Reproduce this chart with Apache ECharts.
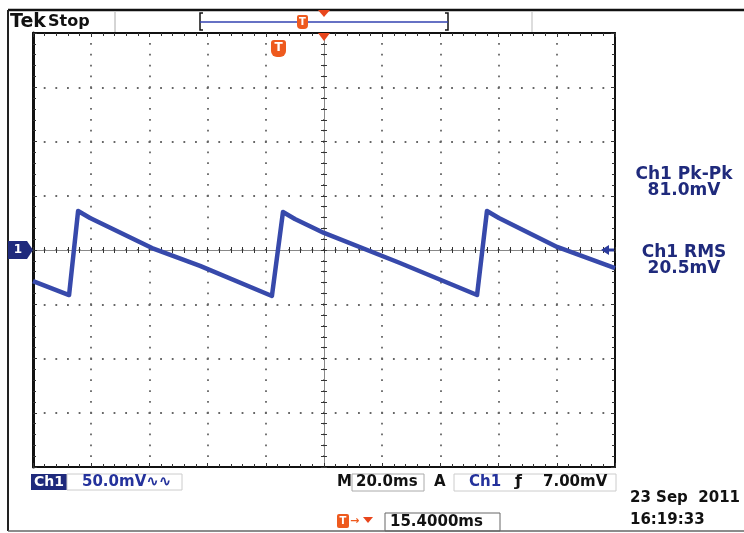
<!DOCTYPE html>
<html><head><meta charset="utf-8">
<script src="https://cdn.jsdelivr.net/npm/echarts@6/dist/echarts.min.js"></script>
<style>html,body{margin:0;padding:0;background:#fff}#c{width:744px;height:533px}</style>
</head><body><div id="c"></div>
<script>
// Time axis (ms, relative to screen centre) and Ch1 voltage (mV)
const timeMs = [-100, -87.6, -84.5, -80.4, -59.1, -42.6, -17.9, -14.1, -10.0, 0, 26.1, 52.6, 56.0, 60.1, 80.1, 100];
const voltMv = [-28.6, -41.5, 35.9, 29.5, 1.8, -14.7, -42.4, 35.0, 28.6, 15.7, -12.0, -41.5, 35.9, 29.5, 2.8, -16.6];
const timeRange = [-100, 100];   // 10 div x 20 ms
const voltRange = [-200, 200];   // 8 div x 50 mV
const timePerDiv = 20;
const voltPerDiv = 50;
const readoutTitles = ['Ch1 Pk-Pk', 'Ch1 RMS'];
const readoutValues = ['81.0mV', '20.5mV'];
const chScale = '50.0mV';
const timeBase = '20.0ms';
const trigLevel = '7.00mV';
const trigPos = '15.4000ms';
const dateText = '23 Sep  2011';
const timeText = '16:19:33';

const FONT = 'DejaVu Sans';
const NAVY = '#1f2a7c';
const TRACE = '#3749ab';
const ORANGE = '#ee5a1e';

function xAx(extra) {
  return Object.assign({
    type: 'value', min: timeRange[0], max: timeRange[1], interval: timePerDiv,
    axisLabel: {show: false}, splitLine: {show: false},
    axisTick: {show: true, inside: true, length: 4, lineStyle: {color: '#333', width: 1}},
    minorTick: {show: true, splitNumber: 5, length: 3, lineStyle: {color: '#333', width: 1}},
    axisLine: {show: true, onZero: false, lineStyle: {color: '#111', width: 2}}
  }, extra);
}
function yAx(extra) {
  return Object.assign({
    type: 'value', min: voltRange[0], max: voltRange[1], interval: voltPerDiv,
    axisLabel: {show: false}, splitLine: {show: false},
    axisTick: {show: true, inside: true, length: 4, lineStyle: {color: '#333', width: 1}},
    minorTick: {show: true, splitNumber: 5, length: 3, lineStyle: {color: '#333', width: 1}},
    axisLine: {show: true, onZero: false, lineStyle: {color: '#111', width: 2}}
  }, extra);
}

const chart = echarts.init(document.getElementById('c'), null, {renderer: 'canvas'});
const option = {
  animation: false,
  backgroundColor: '#fff',
  grid: {left: 33, top: 33, width: 582, height: 434, containLabel: false},
  xAxis: [
    xAx({position: 'bottom',
      splitLine: {show: true, lineStyle: {color: '#666', width: 1.8, type: [1.8, 9.05], dashOffset: 0.9}}}),
    xAx({position: 'top'}),
    xAx({position: 'bottom', axisLine: {show: true, onZero: true, onZeroAxisIndex: 0, lineStyle: {color: '#888', width: 1}},
      axisTick: {show: true, inside: true, length: 3, lineStyle: {color: '#333'}},
      minorTick: {show: true, splitNumber: 5, length: 3, lineStyle: {color: '#333'}}}),
    xAx({position: 'bottom', axisLine: {show: false, onZero: true, onZeroAxisIndex: 0},
      axisTick: {show: true, inside: false, length: 3, lineStyle: {color: '#333'}},
      minorTick: {show: true, splitNumber: 5, length: 3, lineStyle: {color: '#333'}}})
  ],
  yAxis: [
    yAx({position: 'left', axisLine: {show: true, onZero: false, lineStyle: {color: '#111', width: 3}},
      splitLine: {show: true, lineStyle: {color: '#666', width: 1.8, type: [1.8, 9.84], dashOffset: 0.9}}}),
    yAx({position: 'right'}),
    yAx({position: 'left', axisLine: {show: true, onZero: true, onZeroAxisIndex: 0, lineStyle: {color: '#888', width: 1}},
      axisTick: {show: true, inside: true, length: 3, lineStyle: {color: '#333'}},
      minorTick: {show: true, splitNumber: 5, length: 3, lineStyle: {color: '#333'}}}),
    yAx({position: 'left', axisLine: {show: false, onZero: true, onZeroAxisIndex: 0},
      axisTick: {show: true, inside: false, length: 3, lineStyle: {color: '#333'}},
      minorTick: {show: true, splitNumber: 5, length: 3, lineStyle: {color: '#333'}}})
  ],
  series: [{
    type: 'line', xAxisIndex: 0, yAxisIndex: 0,
    data: timeMs.map((t, i) => [t, voltMv[i]]),
    showSymbol: false, symbol: 'none',
    lineStyle: {color: TRACE, width: 4.5, join: 'round'},
    z: 5
  }],
  graphic: [
    // outer frame
    {type: 'line', shape: {x1: 8, y1: 10, x2: 744, y2: 10}, style: {stroke: '#111', lineWidth: 2.5}},
    {type: 'line', shape: {x1: 8, y1: 10, x2: 8, y2: 531}, style: {stroke: '#222', lineWidth: 2}},
    {type: 'line', shape: {x1: 8, y1: 531, x2: 744, y2: 531}, style: {stroke: '#666', lineWidth: 1.5}},
    // top status bar
    {type: 'line', shape: {x1: 115, y1: 12, x2: 115, y2: 33}, style: {stroke: '#aaa', lineWidth: 1}},
    {type: 'line', shape: {x1: 532, y1: 12, x2: 532, y2: 33}, style: {stroke: '#bbb', lineWidth: 1}},
    {type: 'polyline', shape: {points: [[203, 13], [200, 13], [200, 30], [203, 30]]}, style: {stroke: '#111', lineWidth: 1.5, fill: null}},
    {type: 'polyline', shape: {points: [[445, 13], [448, 13], [448, 30], [445, 30]]}, style: {stroke: '#111', lineWidth: 1.5, fill: null}},
    {type: 'line', shape: {x1: 200, y1: 22, x2: 448, y2: 22}, style: {stroke: '#3342b0', lineWidth: 1.5}},
    {type: 'text', x: 10, y: 22, style: {text: 'Tek', font: 'bold 19px "' + FONT + '"', fill: '#111', verticalAlign: 'middle'}},
    {type: 'text', x: 48, y: 22, style: {text: 'Stop', font: 'bold 16px "' + FONT + '"', fill: '#111', verticalAlign: 'middle'}},
    {type: 'rect', shape: {x: 297, y: 15, width: 11, height: 14, r: [2, 2, 4, 4]}, style: {fill: ORANGE}},
    {type: 'text', x: 302.5, y: 22, style: {text: 'T', font: 'bold 10px "' + FONT + '"', fill: '#fff', align: 'center', verticalAlign: 'middle'}},
    {type: 'polygon', shape: {points: [[318, 10], [330, 10], [324, 17]]}, style: {fill: '#e8461c'}},
    // trigger markers in plot
    {type: 'polygon', shape: {points: [[318, 33], [330, 33], [324, 41]]}, style: {fill: '#e8461c'}, z: 20},
    {type: 'rect', shape: {x: 271, y: 40, width: 15, height: 17, r: [3, 3, 6, 6]}, style: {fill: ORANGE}, z: 20},
    {type: 'text', x: 278.5, y: 48, style: {text: 'T', font: 'bold 12px "' + FONT + '"', fill: '#fff', align: 'center', verticalAlign: 'middle'}, z: 21},
    // channel 1 ground marker
    {type: 'polygon', shape: {points: [[8, 241], [27, 241], [33, 250], [27, 259], [8, 259]]}, style: {fill: NAVY}, z: 20},
    {type: 'text', x: 18, y: 250, style: {text: '1', font: 'bold 12px "' + FONT + '"', fill: '#fff', align: 'center', verticalAlign: 'middle'}, z: 21},
    // trigger level arrow
    {type: 'polygon', shape: {points: [[601, 250], [609, 245], [609, 255]]}, style: {fill: '#2a3a9c'}, z: 20},
    {type: 'line', shape: {x1: 608, y1: 250, x2: 614, y2: 250}, style: {stroke: '#2a3a9c', lineWidth: 3}, z: 20},
    // right readouts
    {type: 'text', x: 684, y: 175, style: {text: readoutTitles[0], font: 'bold 17px "' + FONT + '"', fill: NAVY, align: 'center', verticalAlign: 'middle'}},
    {type: 'text', x: 684, y: 191, style: {text: readoutValues[0], font: 'bold 17px "' + FONT + '"', fill: NAVY, align: 'center', verticalAlign: 'middle'}},
    {type: 'text', x: 684, y: 253, style: {text: readoutTitles[1], font: 'bold 17px "' + FONT + '"', fill: NAVY, align: 'center', verticalAlign: 'middle'}},
    {type: 'text', x: 684, y: 269, style: {text: readoutValues[1], font: 'bold 17px "' + FONT + '"', fill: NAVY, align: 'center', verticalAlign: 'middle'}},
    // bottom readout row
    {type: 'rect', shape: {x: 31, y: 474, width: 36, height: 16}, style: {fill: NAVY}},
    {type: 'text', x: 49, y: 482, style: {text: 'Ch1', font: 'bold 14px "' + FONT + '"', fill: '#fff', align: 'center', verticalAlign: 'middle'}},
    {type: 'rect', shape: {x: 67, y: 474, width: 115, height: 16}, style: {fill: null, stroke: '#ccc', lineWidth: 1}},
    {type: 'text', x: 82, y: 482, style: {text: chScale + '∿∿', font: 'bold 15px "' + FONT + '"', fill: '#24329c', verticalAlign: 'middle'}},
    {type: 'text', x: 337, y: 482, style: {text: 'M', font: 'bold 15px "' + FONT + '"', fill: '#111', verticalAlign: 'middle'}},
    {type: 'rect', shape: {x: 352, y: 474, width: 72, height: 17}, style: {fill: null, stroke: '#aaa', lineWidth: 1}},
    {type: 'text', x: 356, y: 482, style: {text: timeBase, font: 'bold 15px "' + FONT + '"', fill: '#111', verticalAlign: 'middle'}},
    {type: 'text', x: 434, y: 482, style: {text: 'A', font: 'bold 15px "' + FONT + '"', fill: '#111', verticalAlign: 'middle'}},
    {type: 'rect', shape: {x: 454, y: 474, width: 162, height: 17}, style: {fill: null, stroke: '#ccc', lineWidth: 1}},
    {type: 'text', x: 469, y: 482, style: {text: 'Ch1', font: 'bold 15px "' + FONT + '"', fill: '#24329c', verticalAlign: 'middle'}},
    {type: 'text', x: 515, y: 482, style: {text: 'ƒ', font: 'bold 16px "' + FONT + '"', fill: '#111', verticalAlign: 'middle'}},
    {type: 'text', x: 543, y: 482, style: {text: trigLevel, font: 'bold 15px "' + FONT + '"', fill: '#111', verticalAlign: 'middle'}},
    {type: 'text', x: 630, y: 498, style: {text: dateText, font: 'bold 15px "' + FONT + '"', fill: '#111', verticalAlign: 'middle'}},
    {type: 'text', x: 630, y: 520, style: {text: timeText, font: 'bold 15px "' + FONT + '"', fill: '#111', verticalAlign: 'middle'}},
    {type: 'rect', shape: {x: 337, y: 514, width: 12, height: 14, r: 2}, style: {fill: ORANGE}},
    {type: 'text', x: 343, y: 521, style: {text: 'T', font: 'bold 10px "' + FONT + '"', fill: '#fff', align: 'center', verticalAlign: 'middle'}},
    {type: 'text', x: 350, y: 521, style: {text: '→', font: 'bold 11px "' + FONT + '"', fill: ORANGE, verticalAlign: 'middle'}},
    {type: 'polygon', shape: {points: [[363, 517], [373, 517], [368, 523]]}, style: {fill: '#e8461c'}},
    {type: 'rect', shape: {x: 385, y: 513, width: 115, height: 18}, style: {fill: null, stroke: '#666', lineWidth: 1}},
    {type: 'text', x: 390, y: 522, style: {text: trigPos, font: 'bold 15px "' + FONT + '"', fill: '#111', verticalAlign: 'middle'}}
  ]
};
chart.setOption(option);
</script>
</body></html>
